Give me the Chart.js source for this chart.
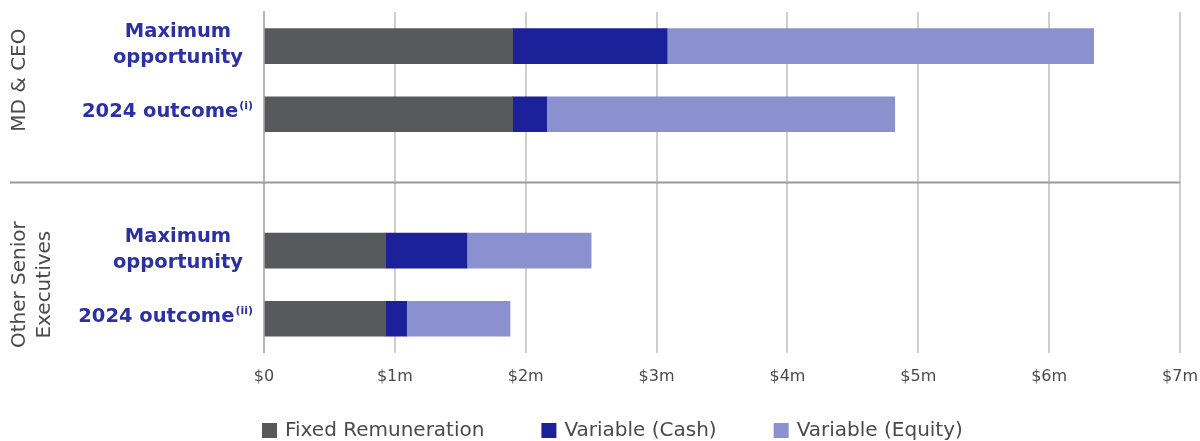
<!DOCTYPE html>
<html>
<head>
<meta charset="utf-8">
<script src="https://cdn.jsdelivr.net/npm/chart.js@4.4.1/dist/chart.umd.min.js"></script>
<style>
  html, body { margin: 0; padding: 0; background: #fff; }
  #wrap { width: 1200px; height: 441px; }
</style>
</head>
<body>
<div id="wrap"><canvas id="remChart" width="1200" height="441"></canvas></div>
<script>
// ------------------------------
// Data (values in $m)
// ------------------------------
const rowLabels = [['Maximum', 'opportunity'], ['2024 outcome'], [], ['Maximum', 'opportunity'], ['2024 outcome']];
const rowNotes = ['', '(i)', '', '', '(ii)'];
const groupNames = [['MD & CEO'], ['Other Senior', 'Executives']];
const groupRows = [[0, 1], [3, 4]];

const seriesNames = ['Fixed Remuneration', 'Variable (Cash)', 'Variable (Equity)'];
const fixedPay = [1.90, 1.90, null, 0.93, 0.93];
const cashPay = [1.18, 0.26, null, 0.62, 0.16];
const equityPay = [3.26, 2.66, null, 0.95, 0.79];

const xTicks = [0, 1, 2, 3, 4, 5, 6, 7];

const FONT = '"DejaVu Sans"';
const colors = ['#58595b', '#1b2199', '#8b90cf'];

// ------------------------------
// Plugin: left labels, group labels, separator, legend
// ------------------------------
const decorPlugin = {
    id: 'decor',
    afterDraw(chart) {
        const ctx = chart.ctx;
        const y = chart.scales.y;
        const area = chart.chartArea;
        ctx.save();

        // separator line between the two groups
        const sepY = y.getPixelForValue(2);
        ctx.strokeStyle = '#9a9a9a';
        ctx.lineWidth = 2;
        ctx.beginPath();
        ctx.moveTo(10, sepY);
        ctx.lineTo(area.right, sepY);
        ctx.stroke();

        // row labels (blue, bold, centred lines)
        ctx.fillStyle = '#2b30a3';
        ctx.textBaseline = 'middle';
        rowLabels.forEach((lines, i) => {
            if (!lines.length) return;
            const cy = y.getPixelForValue(i);
            if (rowNotes[i]) {
                ctx.textAlign = 'right';
                const right = 253;
                ctx.font = 'bold 11px ' + FONT;
                const noteW = ctx.measureText(rowNotes[i]).width;
                ctx.fillText(rowNotes[i], right, cy - 8);
                ctx.font = 'bold 19.5px ' + FONT;
                ctx.fillText(lines[0], right - noteW - 1, cy - 2);
            } else {
                ctx.font = 'bold 19.5px ' + FONT;
                ctx.textAlign = 'center';
                lines.forEach((t, k) => {
                    ctx.fillText(t, 178, cy - 1 + (k - (lines.length - 1) / 2) * 26);
                });
            }
        });

        // group labels (rotated)
        ctx.fillStyle = '#4a4a4a';
        ctx.font = '20px ' + FONT;
        ctx.textAlign = 'center';
        groupNames.forEach((lines, g) => {
            const rows = groupRows[g];
            const cy = (y.getPixelForValue(rows[0]) + y.getPixelForValue(rows[rows.length - 1])) / 2;
            lines.forEach((t, k) => {
                ctx.save();
                ctx.translate(20 + k * 25, cy);
                ctx.rotate(-Math.PI / 2);
                ctx.fillText(t, 0, 0);
                ctx.restore();
            });
        });

        // legend
        ctx.font = '20px ' + FONT;
        ctx.textAlign = 'left';
        let lx = area.left - 2;
        const ly = 431;
        chart.data.datasets.forEach(ds => {
            ctx.fillStyle = ds.backgroundColor;
            ctx.fillRect(lx, ly - 8, 15, 15);
            ctx.fillStyle = '#4a4a4a';
            ctx.fillText(ds.label, lx + 23, ly);
            lx += 23 + ctx.measureText(ds.label).width + 57;
        });

        ctx.restore();
    }
};

// ------------------------------
// Chart
// ------------------------------
const ctx = document.getElementById('remChart').getContext('2d');
new Chart(ctx, {
    type: 'bar',
    data: {
        labels: rowLabels.map(l => l.join(' ')),
        datasets: [
            { label: seriesNames[0], data: fixedPay, backgroundColor: colors[0] },
            { label: seriesNames[1], data: cashPay, backgroundColor: colors[1] },
            { label: seriesNames[2], data: equityPay, backgroundColor: colors[2] }
        ].map(d => Object.assign(d, { barThickness: 35, borderWidth: 0 }))
    },
    options: {
        indexAxis: 'y',
        responsive: false,
        animation: false,
        layout: { padding: { top: 12, right: 20, bottom: 41, left: 0 } },
        plugins: {
            legend: { display: false },
            tooltip: { enabled: false }
        },
        scales: {
            x: {
                stacked: true,
                min: 0,
                max: 7,
                afterBuildTicks: scale => { scale.ticks = xTicks.map(v => ({ value: v })); },
                afterFit: scale => { scale.paddingRight = 0; scale.paddingLeft = 0; },
                ticks: {
                    color: '#4a4a4a',
                    font: { family: FONT, size: 16 },
                    padding: 14,
                    maxRotation: 0,
                    callback: v => v === 0 ? '$0' : '$' + v + 'm'
                },
                grid: { color: '#cfcfcf', lineWidth: 2, drawTicks: false },
                border: { display: false }
            },
            y: {
                stacked: true,
                ticks: { display: false },
                grid: { display: false },
                border: { color: '#b5b5b5', width: 2 },
                afterFit: scale => { scale.width = 264; }
            }
        }
    },
    plugins: [decorPlugin]
});
</script>
</body>
</html>
